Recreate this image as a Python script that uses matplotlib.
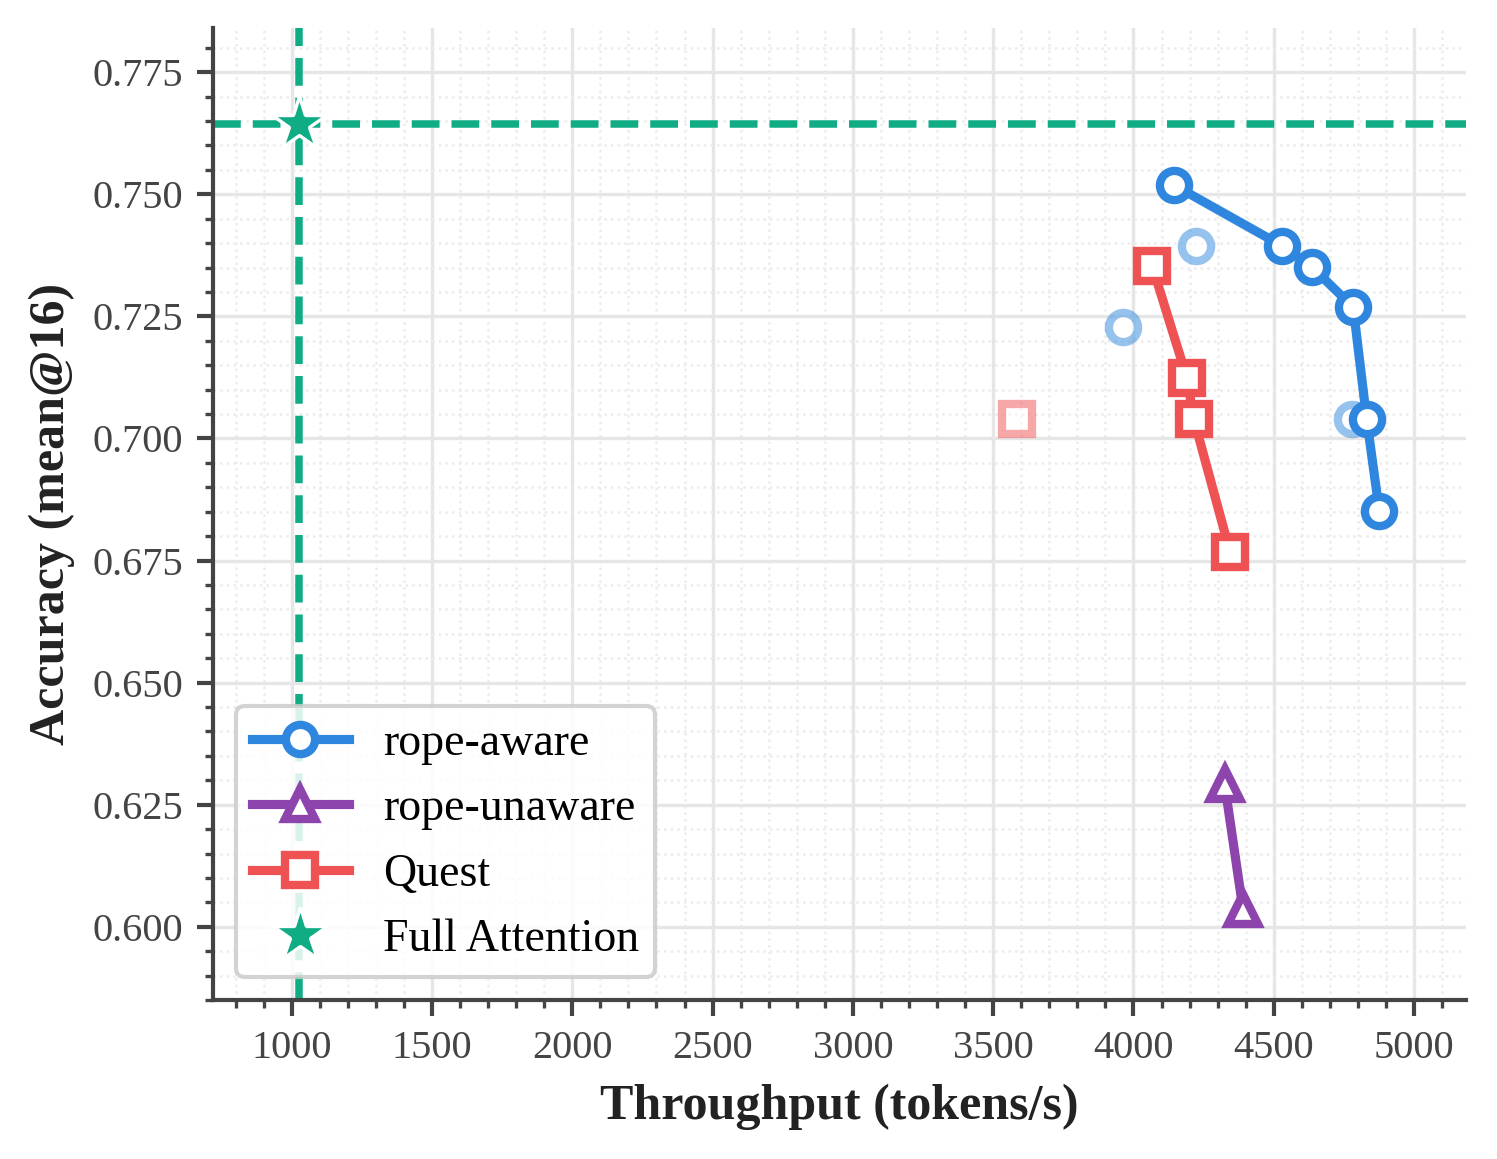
import matplotlib
matplotlib.use("Agg")
import matplotlib.pyplot as plt
from matplotlib.ticker import MultipleLocator

plt.rcParams['font.family'] = ['Liberation Serif', 'DejaVu Serif']

# Data
aware_x = [4144, 4528, 4636, 4783, 4831, 4876]
aware_y = [0.7519, 0.7395, 0.7351, 0.7269, 0.7040, 0.6852]
aware_extra_x = [3964, 4222, 4780]
aware_extra_y = [0.7228, 0.7394, 0.7040]

unaware_x = [4325, 4390]
unaware_y = [0.6292, 0.6037]

quest_x = [4067, 4191, 4215, 4344]
quest_y = [0.7353, 0.7123, 0.7040, 0.6768]
quest_extra_x = [3584]
quest_extra_y = [0.7039]

full_x = 1027
full_y = 0.7645

BLUE = '#2e86de'
PURPLE = '#8e44ad'
RED = '#ee5253'
GREEN = '#10ac84'

fig = plt.figure(figsize=(1497/300, 1159/300), dpi=300)
ax = fig.add_axes([213.3/1497, 1-1000/1159, (1465.7-213.3)/1497, (1000-28.3)/1159])

ax.set_xlim(720.6, 5184)
ax.set_ylim(0.585, 0.784)

ax.xaxis.set_major_locator(MultipleLocator(500))
ax.xaxis.set_minor_locator(MultipleLocator(100))
ax.yaxis.set_major_locator(MultipleLocator(0.025))
ax.yaxis.set_minor_locator(MultipleLocator(0.005))

ax.grid(True, which='major', color='#e6e6e6', linewidth=0.8, zorder=0)
ax.grid(True, which='minor', color='#ececec', linewidth=0.6, linestyle=':', zorder=0)
ax.set_axisbelow(True)

ax.axvline(full_x, color=GREEN, linestyle='--', linewidth=1.8, zorder=1)
ax.axhline(full_y, color=GREEN, linestyle='--', linewidth=1.8, zorder=1)

mk = dict(markersize=7, markeredgewidth=2, markerfacecolor='white')

ax.plot(aware_extra_x, aware_extra_y, linestyle='none', marker='o', color=BLUE,
        alpha=0.5, zorder=2, **mk)
ax.plot(quest_extra_x, quest_extra_y, linestyle='none', marker='s', color=RED,
        alpha=0.5, zorder=2, **mk)

ax.plot(aware_x, aware_y, marker='o', color=BLUE, linewidth=2.2, label='rope-aware', zorder=3, **mk)
ax.plot(unaware_x, unaware_y, marker='^', color=PURPLE, linewidth=2.2, label='rope-unaware', zorder=3, **mk)
ax.plot(quest_x, quest_y, marker='s', color=RED, linewidth=2.2, label='Quest', zorder=3, **mk)
ax.plot([full_x], [full_y], linestyle='none', marker='*', color=GREEN, markersize=13.5,
        markeredgecolor='white', markeredgewidth=0.8, label='Full Attention', zorder=4)

for s in ['top', 'right']:
    ax.spines[s].set_visible(False)
for s in ['left', 'bottom']:
    ax.spines[s].set_color('#444444')
    ax.spines[s].set_linewidth(1.0)

ax.tick_params(axis='both', which='major', direction='out', length=3.8, width=1.0,
               color='#444444', labelcolor='#444444', labelsize=9.7)
ax.tick_params(axis='both', which='minor', direction='out', length=2.0, width=0.8,
               color='#444444')

ax.set_xlabel('Throughput (tokens/s)', fontsize=12, fontweight='bold', color='#222222', labelpad=4)
ax.set_ylabel('Accuracy (mean@16)', fontsize=12, fontweight='bold', color='#222222', labelpad=4)

leg = ax.legend(loc='lower left', fontsize=11, handlelength=2.1, frameon=True,
                fancybox=True, framealpha=0.85, edgecolor='#cccccc',
                borderpad=0.35, labelspacing=0.5, handletextpad=0.75,
                borderaxespad=0.5)
leg.get_frame().set_linewidth(1.0)

fig.savefig('out.png', dpi=300)
